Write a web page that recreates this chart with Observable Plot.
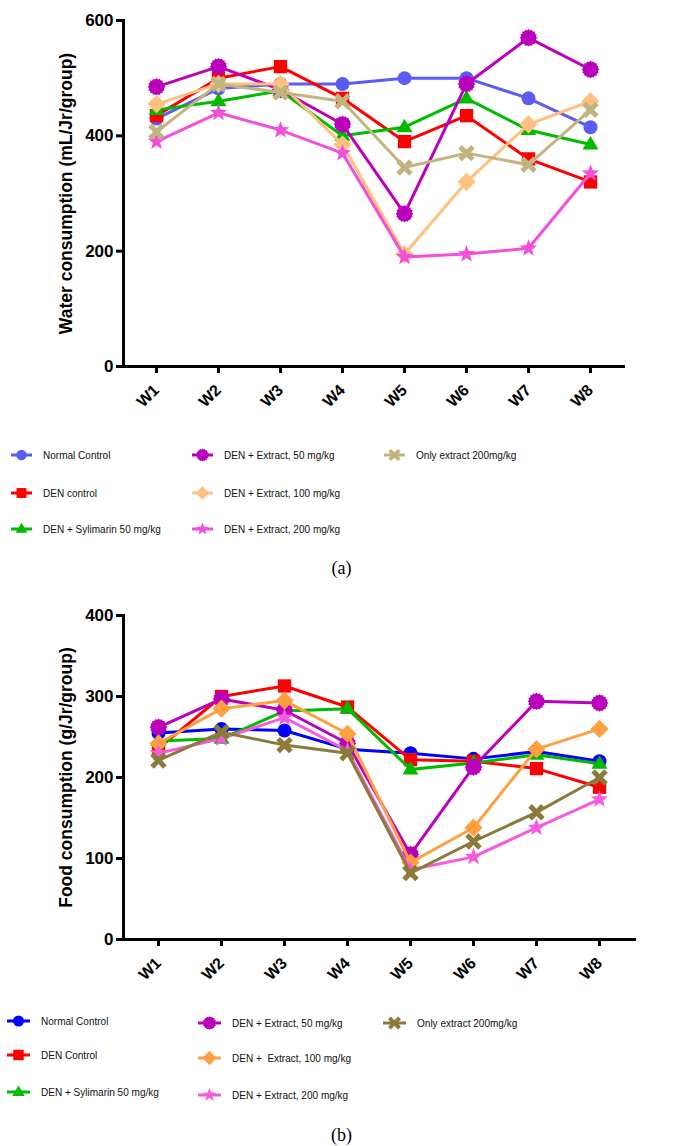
<!DOCTYPE html>
<html>
<head>
<meta charset="utf-8">
<script src="https://cdn.jsdelivr.net/npm/d3@7"></script>
<script src="https://cdn.jsdelivr.net/npm/@observablehq/plot@0.6"></script>
<style>
  body { margin: 0; background: #fff; }
  #fig { position: relative; width: 683px; height: 1146px; overflow: hidden; background: #fff;
         font-family: "Liberation Sans", Arial, sans-serif; }
  .panel { position: absolute; left: 0; }
  .swatch { position: absolute; overflow: visible; }
  .legend-text { position: absolute; font-size: 11.8px; line-height: 16px; color: #111; white-space: pre;
                 transform: scaleX(0.85); transform-origin: left center; }
  .caption { position: absolute; left: 0; width: 683px; text-align: center;
             font-family: "Liberation Serif", "DejaVu Serif", serif; font-size: 18px; line-height: 20px; }
</style>
</head>
<body>
<div id="fig"></div>
<script>
// ---- Data ---------------------------------------------------------------
const weeks = ["W1", "W2", "W3", "W4", "W5", "W6", "W7", "W8"];

const groupsWater = [
  "Normal Control", "DEN control", "DEN + Sylimarin 50 mg/kg",
  "DEN + Extract, 50 mg/kg", "DEN + Extract, 100 mg/kg", "DEN + Extract, 200 mg/kg",
  "Only extract 200mg/kg"
];
const groupsFood = [
  "Normal Control", "DEN Control", "DEN + Sylimarin 50 mg/kg",
  "DEN + Extract, 50 mg/kg", "DEN +  Extract, 100 mg/kg", "DEN + Extract, 200 mg/kg",
  "Only extract 200mg/kg"
];

// Water consumption (mL/Jr/group)
const waterNormal    = [430, 482, 490, 490, 500, 500, 465, 415];
const waterDEN       = [435, 500, 520, 465, 390, 435, 360, 320];
const waterSylimarin = [445, 460, 478, 400, 415, 465, 410, 385];
const waterExt50     = [485, 520, 480, 420, 265, 490, 570, 515];
const waterExt100    = [455, 490, 490, 385, 195, 320, 420, 460];
const waterExt200    = [390, 440, 410, 370, 190, 195, 205, 335];
const waterOnlyExt   = [407, 490, 475, 460, 345, 370, 350, 445];

// Food consumption (g/Jr/group)
const foodNormal    = [255, 260, 258, 235, 230, 223, 232, 220];
const foodDEN       = [236, 300, 313, 287, 222, 220, 211, 188];
const foodSylimarin = [245, 248, 282, 285, 210, 218, 228, 217];
const foodExt50     = [262, 297, 283, 242, 105, 213, 294, 292];
const foodExt100    = [242, 285, 295, 254, 95, 138, 235, 260];
const foodExt200    = [230, 248, 274, 233, 86, 102, 138, 173];
const foodOnlyExt   = [221, 256, 240, 230, 82, 121, 157, 200];

const waterColors = ["#5b5bf5", "#ff0000", "#00bb00", "#bb00bb", "#ffc080", "#f250d8", "#c2b47e"];
const foodColors  = ["#0000ff", "#ff0000", "#00bb00", "#bb00bb", "#ffa040", "#f55bdb", "#8b7a3a"];

// ---- Marker shapes (filled, radius taken from the dot's r) ----------------
const rad = size => Math.sqrt(size / Math.PI);
function poly(c, pts) {
  c.moveTo(pts[0][0], pts[0][1]);
  for (let i = 1; i < pts.length; i++) c.lineTo(pts[i][0], pts[i][1]);
  c.closePath();
}
const shapeCircle = { draw(c, s) { const r = rad(s); c.moveTo(r, 0); c.arc(0, 0, r, 0, 2 * Math.PI); } };
const shapeSquare = { draw(c, s) { const h = rad(s) * 0.95; poly(c, [[-h, -h], [h, -h], [h, h], [-h, h]]); } };
const shapeTriangle = { draw(c, s) {
  const R = rad(s) * 1.2;
  poly(c, [[0, -R], [R * 0.95, R * 0.6], [-R * 0.95, R * 0.6]]);
} };
const shapeGear = { draw(c, s) {
  const r = rad(s), n = 16, pts = [];
  for (let i = 0; i < 2 * n; i++) {
    const a = Math.PI * i / n, rr = i % 2 ? r * 1.08 : r * 1.25;
    pts.push([rr * Math.cos(a), rr * Math.sin(a)]);
  }
  poly(c, pts);
} };
const shapeDiamond = { draw(c, s) { const d = rad(s) * 1.3; poly(c, [[0, -d], [d, 0], [0, d], [-d, 0]]); } };
const shapeStar = { draw(c, s) {
  const r = rad(s), pts = [];
  for (let i = 0; i < 10; i++) {
    const a = -Math.PI / 2 + Math.PI * i / 5, rr = i % 2 ? r * 0.55 : r * 1.3;
    pts.push([rr * Math.cos(a), rr * Math.sin(a)]);
  }
  poly(c, pts);
} };
const shapeX = { draw(c, s) {
  const r = rad(s), a = r * 0.36, L = r * 1.3, k = Math.SQRT1_2;
  const cross = [[-a, -L], [a, -L], [a, -a], [L, -a], [L, a], [a, a], [a, L], [-a, L], [-a, a], [-L, a], [-L, -a], [-a, -a]];
  poly(c, cross.map(([x, y]) => [(x - y) * k, (x + y) * k]));
} };
const shapes = [shapeCircle, shapeSquare, shapeTriangle, shapeGear, shapeDiamond, shapeStar, shapeX];

// ---- Chart ----------------------------------------------------------------
function lineChart({ values, colors, yMax, yTicks, yLabel, height, marginTop, marginBottom, marginRight, r }) {
  const marks = [];
  values.forEach((vals, i) => {
    const data = weeks.map((w, j) => ({ week: w, value: vals[j] }));
    marks.push(Plot.line(data, { x: "week", y: "value", stroke: colors[i], strokeWidth: 3 }));
    marks.push(Plot.dot(data, { x: "week", y: "value", fill: colors[i], symbol: shapes[i], r }));
  });
  return Plot.plot({
    width: 683,
    height,
    marginLeft: 123,
    marginRight,
    marginTop,
    marginBottom,
    style: { fontFamily: "'Liberation Sans', Arial, sans-serif", fontWeight: "bold", color: "#000", background: "#fff" },
    x: { type: "point", domain: weeks, padding: 0.5 },
    y: { domain: [0, yMax] },
    marks: [
      Plot.axisY({ ticks: yTicks, tickSize: 7, strokeWidth: 3, tickPadding: 3, fontSize: 17, fontWeight: "bold", label: null }),
      Plot.axisX({ tickRotate: -45, tickSize: 7, strokeWidth: 3, tickPadding: 14, fontSize: 16, fontWeight: "bold", label: null }),
      Plot.text([yLabel], { frameAnchor: "left", dx: -57, rotate: -90, textAnchor: "middle",
                            fontSize: 17.5, fontWeight: "bold", fill: "#000" }),
      ...marks,
      Plot.frame({ anchor: "left", strokeWidth: 3, strokeLinecap: "square" }),
      Plot.frame({ anchor: "bottom", strokeWidth: 3, strokeLinecap: "square" })
    ]
  });
}

// ---- Legend ---------------------------------------------------------------
function legend(fig, { labels, colors, cols, rows, lineLen, r }) {
  labels.forEach((label, i) => {
    const col = Math.min(Math.floor(i / 3), 2);
    const row = i < 6 ? i % 3 : 0;
    const c = cols[col], y = rows[col][row];
    const svg = d3.select(fig).append("svg").attr("class", "swatch")
      .attr("width", lineLen).attr("height", 20)
      .style("left", c.sx + "px").style("top", (y - 10) + "px");
    svg.append("line").attr("x1", 0).attr("x2", lineLen).attr("y1", 10).attr("y2", 10)
      .attr("stroke", colors[i]).attr("stroke-width", 3);
    svg.append("path").attr("transform", `translate(${lineLen / 2},10)`)
      .attr("d", d3.symbol(shapes[i], Math.PI * r * r)()).attr("fill", colors[i]);
    d3.select(fig).append("div").attr("class", "legend-text")
      .style("left", c.tx + "px").style("top", (y - 8) + "px").text(label);
  });
}

const fig = document.getElementById("fig");

const waterChart = lineChart({
  values: [waterNormal, waterDEN, waterSylimarin, waterExt50, waterExt100, waterExt200, waterOnlyExt],
  colors: waterColors, yMax: 600, yTicks: [0, 200, 400, 600],
  yLabel: "Water consumption (mL/Jr/group)",
  height: 430, marginTop: 20, marginBottom: 64, marginRight: 60, r: 7
});
waterChart.classList.add("panel");
waterChart.style.top = "0px";
fig.appendChild(waterChart);

legend(fig, {
  labels: groupsWater, colors: waterColors, lineLen: 21, r: 5.2,
  cols: [{ sx: 11, tx: 43 }, { sx: 192, tx: 224 }, { sx: 384, tx: 416 }],
  rows: [[455, 493, 529], [455, 493, 529], [455]]
});

const capA = document.createElement("div");
capA.className = "caption"; capA.style.top = "558px"; capA.textContent = "(a)";
fig.appendChild(capA);

const foodChart = lineChart({
  values: [foodNormal, foodDEN, foodSylimarin, foodExt50, foodExt100, foodExt200, foodOnlyExt],
  colors: foodColors, yMax: 400, yTicks: [0, 100, 200, 300, 400],
  yLabel: "Food consumption (g/Jr/group)",
  height: 410, marginTop: 25, marginBottom: 61, marginRight: 49, r: 7
});
foodChart.classList.add("panel");
foodChart.style.top = "590px";
fig.appendChild(foodChart);

legend(fig, {
  labels: groupsFood, colors: foodColors, lineLen: 23, r: 5.5,
  cols: [{ sx: 7, tx: 41 }, { sx: 198, tx: 232 }, { sx: 383, tx: 417 }],
  rows: [[1021, 1055, 1092], [1023, 1058, 1095], [1023]]
});

const capB = document.createElement("div");
capB.className = "caption"; capB.style.top = "1125px"; capB.textContent = "(b)";
fig.appendChild(capB);
</script>
</body>
</html>
